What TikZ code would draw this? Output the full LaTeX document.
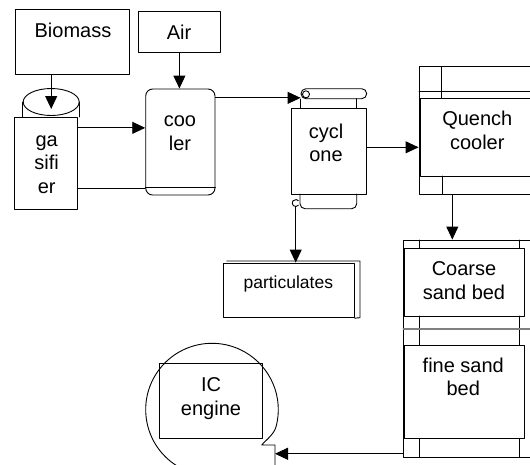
\documentclass[tikz,border=0pt]{standalone}
\usepackage{fontspec}
\setmainfont{Liberation Sans}
\usetikzlibrary{arrows.meta,shapes.geometric}

\begin{document}
\begin{tikzpicture}[
    x=1pt,
    y=-1pt,
    line cap=round,
    line join=round,
    unit/.style n args={2}{
        draw,
        line width=0.9pt,
        inner sep=0pt,
        minimum width=#1pt,
        minimum height=#2pt
    },
    lbl/.style={
        font=\fontsize{20}{23.5}\selectfont,
        align=center,
        inner sep=0pt,
        anchor=base
    },
    flow/.style={
        line width=0.9pt,
        -{Triangle[length=13pt,width=12pt]}
    },
    thin/.style={
        line width=0.9pt
    }
]

\useasboundingbox (0,0) rectangle (530,464);
\clip (0,0) rectangle (530,464);

% =================================================
% Feed: biomass and air
% =================================================

\node[unit={114}{65}] (biomass) at (72.7,41.5) {};
\node[lbl] (biomass-t) at (73,37.3) {Biomass};

\node[unit={81.3}{41}] (air) at (179.4,32.2) {};
\node[lbl] (air-t) at (179,39) {Air};

% =================================================
% Gasifier (cylinder)
% =================================================

\node[draw, thin, ellipse, inner sep=0pt,
      minimum width=56pt, minimum height=27pt] (gastop) at (51.2,102) {};
\draw[thin] (gastop.west) -- ++(0,15);
\draw[thin] (gastop.east) -- ++(0,15);

\node[unit={63}{92}, fill=white] (gasifier) at (45.8,163) {};
\node[lbl] (gasifier-t) at (46.7,193) {ga\\sifi\\er};

% =================================================
% Cooler
% =================================================

\node[unit={69.3}{106}, rounded corners=7pt] (cooler) at (180.35,142) {};
\draw[thin] ([yshift=8.3pt]cooler.south west) -- ([yshift=8.3pt]cooler.south east);
\node[lbl] (cooler-t) at (180,150) {coo\\ler};

% =================================================
% Cyclone
% =================================================

\node[unit={75.7}{86}] (cyclone) at (328.85,151) {};
\node[lbl] (cyclone-t) at (326,161.7) {cycl\\one};

% Top cap
\node[unit={65.7}{10}, rounded corners=5pt] (cyccap) at (333.85,93.7) {};
\draw[thin] (cyccap.south west) -- (cyccap.south west |- cyclone.north);
\draw[thin] (356.7,98.7) -- (356.7,108);
\draw[thin] (306,94.3) circle (3.5);

% Bottom cap
\draw[thin, rounded corners=5pt]
    (300,194) -- (300,208.7) -- (356.7,208.7) -- (356.7,194);
\draw[thin] (295.7,203) ++(40:3.5) arc (40:320:3.5);
\coordinate (cycout) at (295.7,206.5);

% =================================================
% Particulates
% =================================================

\node[unit={131}{54.7}] (particulates) at (288.8,290.35) {};
\draw[thin] (226.7,261) -- (360,261) -- (360,317.7) -- (particulates.south east);
\node[lbl, font=\fontsize{17.5}{21}\selectfont] (particulates-t) at (288.3,288.3) {particulates};

% =================================================
% Quench cooler
% =================================================

\node[unit={126}{127.6}] (quench) at (482,130.5) {};
\node[unit={124.3}{78}] (quench-in) at (482.85,137) {};
\draw[thin] (419,91.7) -- (545,91.7);
\draw[thin] (441.7,66.7) -- (441.7,97.7);
\draw[thin] (442,176) -- (442,194.3);
\node[lbl] (quench-t) at (477.3,149.3) {Quench\\cooler};

% =================================================
% Sand beds
% =================================================

\node[unit={141.7}{217.3}] (sand) at (474.15,348.65) {};
\node[unit={119.7}{67.7}] (coarse) at (464.15,282.15) {};
\node[unit={119.7}{93.3}] (fine) at (464.15,391.65) {};

\foreach \xx in {419.3,519} {
    \draw[thin] (\xx,240) -- (\xx,248.3);
    \draw[thin] (\xx,316) -- (\xx,345);
    \draw[thin] (\xx,438.3) -- (\xx,457.3);
}
\draw[line width=1.5pt, gray] (403.3,329) -- (545,329);

\node[lbl] (coarse-t) at (464,299.3) {Coarse\\sand bed};
\node[lbl] (fine-t) at (463.3,395.7) {fine sand\\bed};

% =================================================
% IC engine
% =================================================

\node[circle, inner sep=0pt, minimum size=132.6pt] (ic) at (212,409.6) {};
\coordinate (ictail) at (275,445);
\draw[thin] (ic.center) ++(120:66.3) arc (120:375:66.3)
    .. controls (273.9,434.5) and (266,440) .. (261.7,445)
    -- (ictail) -- (275,470);

\node[unit={103.7}{75}] (engine) at (210.85,400.8) {};
\node[lbl] (engine-t) at (211,415) {IC\\engine};

% =================================================
% Connections
% =================================================

\draw[flow] (biomass.south -| gastop.center) -- ([yshift=-7pt]gastop.center);
\draw[flow] (air.south) -- (air.south |- cooler.north);

\draw[flow] ([yshift=-11.3pt]gasifier.north east)
    -- ([yshift=-11.3pt]gasifier.north east -| cooler.west);
\draw[thin] ([yshift=21pt]gasifier.south east)
    -- ([yshift=21pt]gasifier.south east -| cooler.west);

\draw[flow] ([yshift=-9.3pt]cooler.north east)
    -- ([yshift=-9.3pt]cooler.north east -| cyccap.west);

\draw[flow] ([yshift=3.7pt]cyclone.east)
    -- ([yshift=3.7pt]cyclone.east -| quench.west);

\draw[flow] (cycout) -- (cycout |- particulates.north);

\draw[flow] ([xshift=-29.7pt]quench.south)
    -- ([xshift=-29.7pt]quench.south |- sand.north);

\draw[flow] ([yshift=4pt]sand.south west)
    -- ([yshift=4pt]sand.south west -| ictail);

\end{tikzpicture}
\end{document}
